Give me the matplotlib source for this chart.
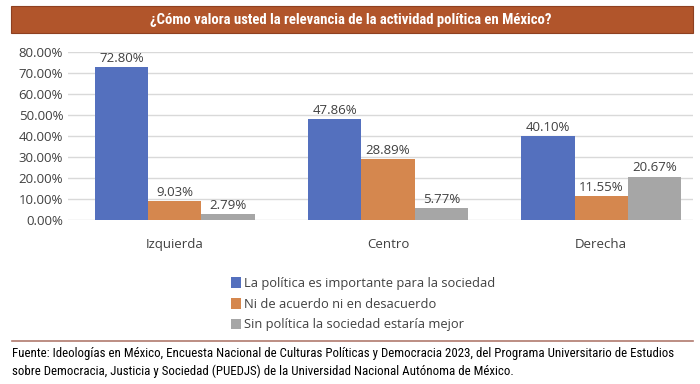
import matplotlib.pyplot as plt
import numpy as np
from matplotlib import font_manager

categories = ['Izquierda', 'Centro', 'Derecha']
series_names = ['La política es importante para la sociedad',
                'Ni de acuerdo ni en desacuerdo',
                'Sin política la sociedad estaría mejor']
importante = [72.80, 47.86, 40.10]
neutral = [9.03, 28.89, 11.55]
sin_politica = [2.79, 5.77, 20.67]
colors = ['#5470BE', '#D5874E', '#A6A6A6']

title = '¿Cómo valora usted la relevancia de la actividad política en México?'
source_lines = ['Fuente: Ideologías en México, Encuesta Nacional de Culturas Políticas y Democracia 2023, '
                'del Programa Universitario de Estudios',
                'sobre Democracia, Justicia y Sociedad (PUEDJS) '
                'de la Universidad Nacional Autónoma de México.']

names = {f.name for f in font_manager.fontManager.ttflist}
narrow = 'Roboto'
for cand in ['Liberation Sans Narrow', 'Roboto Condensed', 'DejaVu Sans Condensed', 'Open Sans Condensed']:
    if cand in names:
        narrow = cand
        break
body = 'Open Sans' if 'Open Sans' in names else 'DejaVu Sans'

fig = plt.figure(figsize=(7, 3.84), dpi=100)

# title bar
fig.patches.append(plt.Rectangle((11 / 700, 1 - 33 / 384), 682 / 700, 27 / 384,
                                 transform=fig.transFigure, facecolor='#B1552B',
                                 edgecolor='#8E4020', linewidth=0.8))
fig.text(351 / 700, 1 - 20 / 384, title, color='white', fontsize=10.6, fontweight='bold',
         family=narrow, ha='center', va='center')

# plot area
ax = fig.add_axes([68 / 700, 1 - 220 / 384, 625 / 700, 168 / 384])
x = np.arange(len(categories))
w = 0.25
for i, (vals, name) in enumerate(zip([importante, neutral, sin_politica], series_names)):
    bars = ax.bar(x + (i - 1) * w, vals, w, color=colors[i], label=name, zorder=3)
    for b, v in zip(bars, vals):
        ax.text(b.get_x() + b.get_width() / 2, v + 1, f'{v:.2f}%', ha='center', va='bottom',
                fontsize=9.5, color='#404040', family=body)

ax.set_ylim(0, 80)
ax.set_xlim(-0.5, 2.43)
ax.set_yticks(np.arange(0, 81, 10))
ax.set_yticklabels([f'{t:.2f}%' for t in np.arange(0, 81, 10)], fontsize=9.5,
                   color='#404040', family=body)
ax.set_xticks(x)
ax.set_xticklabels(categories, fontsize=9.5, color='#404040', family=body)
ax.tick_params(length=0)
ax.tick_params(axis='x', pad=13)
ax.grid(axis='y', color='#D9D9D9', linewidth=1, zorder=0)
for s in ax.spines.values():
    s.set_visible(False)

leg = ax.legend(loc='upper left', bbox_to_anchor=(157 / 625, -0.30), frameon=False,
                handlelength=0.7, handleheight=0.9, handletextpad=0.3,
                labelspacing=0.6, borderpad=0, prop={'family': body, 'size': 9.3})
for t in leg.get_texts():
    t.set_color('#404040')

# bottom rule and source
fig.add_artist(plt.Line2D([12 / 700, 693 / 700], [1 - 341 / 384] * 2,
                          transform=fig.transFigure, color='#B07A6E', linewidth=1.2))
for k, line in enumerate(source_lines):
    fig.text(12 / 700, 1 - (353 + 18 * k) / 384, line, fontsize=9.3, family=narrow,
             va='center', ha='left')

fig.savefig('out.png', dpi=100)
